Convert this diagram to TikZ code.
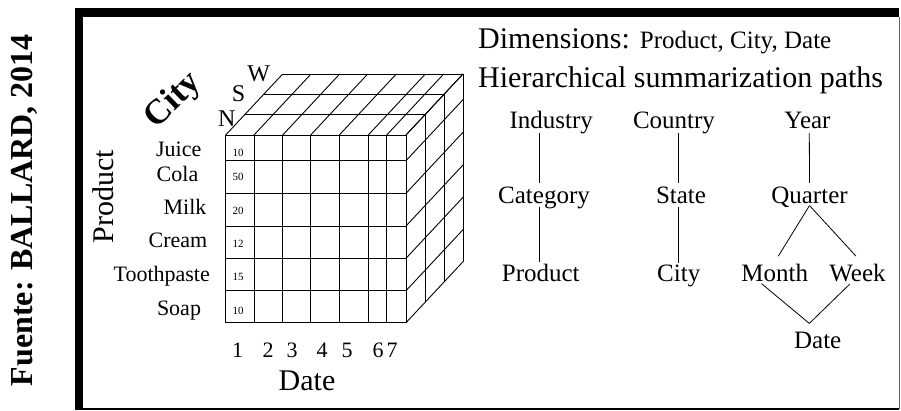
\documentclass[tikz,border=0pt]{standalone}
\usepackage{fontspec}
\setmainfont{Liberation Serif}
\newcommand{\fsz}[1]{\fontsize{#1}{#1}\selectfont}
\begin{document}
\begin{tikzpicture}[x=1pt,y=-1pt,
  cubeline/.style={line width=0.9pt},
  lbl/.style={inner sep=0pt,anchor=base,font=\fsz{22}},
  val/.style={inner sep=0pt,anchor=base,font=\fsz{11}},
  tnode/.style={inner sep=0pt,anchor=base,font=\fsz{25}},
  tline/.style={line width=0.8pt}]
\useasboundingbox (0,0) rectangle (901,410);
% frame
\fill[black] (75,8) rectangle (899,17);
\fill[black] (75,8) rectangle (83,410);
\draw[line width=1.5pt] (83,409) -- (899,409);
\draw[line width=1.2pt,black!60] (899.5,17) -- (899.5,409);
% source label
\node[rotate=90,font=\fsz{32}\bfseries,inner sep=0pt] (src) at (24,210) {Fuente: BALLARD, 2014};
% cube
\def\xs{225.7,254,282.7,310.7,339.3,368.3,386.7,406}
\def\ys{135,160.7,193.3,226,258.3,290.7,322.7}
\foreach \x in \xs {\draw[cubeline] (\x,135) -- (\x,322.7);
  \draw[cubeline] (\x,135) -- (\x+57,135-61);}
\foreach \y in \ys {\draw[cubeline] (225.7,\y) -- (406,\y);
  \draw[cubeline] (406,\y) -- (463,\y-61);}
\foreach \k in {1,2,3} {
  \draw[cubeline] (225.7+19*\k,135-20.33*\k) -- (406+19*\k,135-20.33*\k);
  \draw[cubeline] (406+19*\k,135-20.33*\k) -- (406+19*\k,322.7-20.33*\k);}
% cube labels
\node[rotate=44,font=\fsz{35}\bfseries,inner sep=0pt] (city) at (173.5,101) {City};
\node[rotate=90,font=\fsz{30},inner sep=0pt] (prodax) at (103,197) {Product};
\node[font=\fsz{24},inner sep=0pt] (nN) at (226.7,118.5) {N};
\node[font=\fsz{24},inner sep=0pt] (nS) at (238.5,93.5) {S};
\node[font=\fsz{24},inner sep=0pt] (nW) at (258.7,73.5) {W};
\node[lbl] (juice) at (178.7,156.7) {Juice};
\node[lbl] (cola) at (177.5,181.7) {Cola};
\node[lbl] (milk) at (185,214) {Milk};
\node[lbl] (cream) at (178,247.3) {Cream};
\node[lbl] (tooth) at (161.7,281.7) {Toothpaste};
\node[lbl] (soap) at (179,315) {Soap};
\node[val] (v1) at (238,156.7) {10};
\node[val] (v2) at (238,180.5) {50};
\node[val] (v3) at (238,214) {20};
\node[val] (v4) at (238,247.3) {12};
\node[val] (v5) at (238,280.7) {15};
\node[val] (v6) at (238,314) {10};
\foreach \n/\x in {1/237.5,2/268,3/292,4/322,5/347,6/378,7/392}
  \node[font=\fsz{22},inner sep=0pt] (d\n) at (\x,350) {\n};
\node[font=\fsz{30},inner sep=0pt,anchor=base] (dateax) at (307,390) {Date};
% right text
\node[anchor=base west,inner sep=0pt] (dims) at (478,48.3) {\fsz{30}Dimensions: \fsz{25}Product, City, Date};
\node[anchor=base west,inner sep=0pt,font=\fsz{30}] (hier) at (478,87.3) {Hierarchical summarization paths};
% tree nodes
\node[tnode] (industry) at (551.3,128.3) {Industry};
\node[tnode] (country) at (674,128.3) {Country};
\node[tnode] (year) at (807.5,128.3) {Year};
\node[tnode] (category) at (544,203.3) {Category};
\node[tnode] (state) at (681,203.3) {State};
\node[tnode] (quarter) at (809.5,203.3) {Quarter};
\node[tnode] (product) at (540.8,281) {Product};
\node[tnode] (cityn) at (678.7,281) {City};
\node[tnode] (month) at (774.7,281) {Month};
\node[tnode] (week) at (857.5,281) {Week};
\node[tnode] (date) at (817.7,348.3) {Date};
% tree lines
\draw[tline] ([shift={(-12,-1)}]industry.south) -- ([shift={(-4.7,-3.6)}]category.north);
\draw[tline] ([shift={(-4.7,-2)}]category.south) -- ([shift={(-1.5,-1)}]product.north);
\draw[tline] ([shift={(4.3,-1)}]country.south) -- ([shift={(-2.7,-3.6)}]state.north);
\draw[tline] ([shift={(-2.7,3.4)}]state.south) -- ([shift={(-0.4,-1)}]cityn.north);
\draw[tline] ([shift={(1.8,4.4)}]year.south) -- ([shift={(0,-3.6)}]quarter.north);
\draw[tline] ([shift={(0,-2)}]quarter.south) -- ([shift={(3.6,-7.3)}]month.north);
\draw[tline] ([shift={(0,-2)}]quarter.south) -- ([shift={(-1.5,-7.3)}]week.north);
\draw[tline] ([shift={(-13,2.3)}]month.south) -- ([shift={(-8.4,-8.3)}]date.north);
\draw[tline] ([shift={(-7.5,2.3)}]week.south) -- ([shift={(-8.4,-8.3)}]date.north);
\end{tikzpicture}
\end{document}
